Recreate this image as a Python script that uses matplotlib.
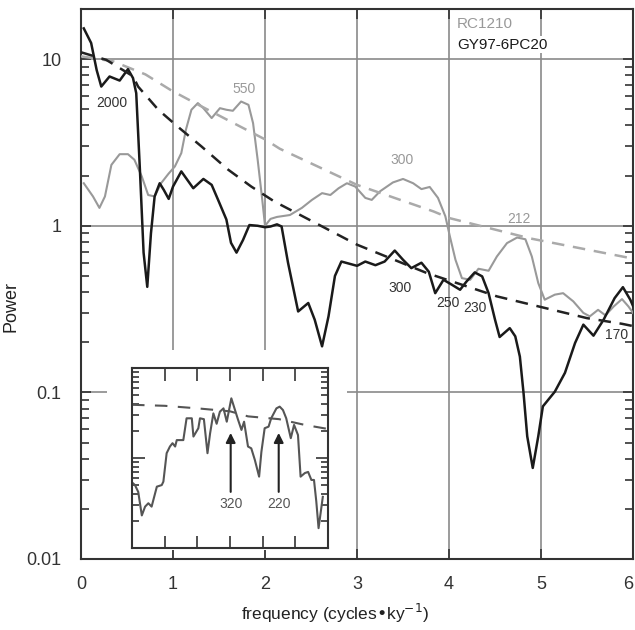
import matplotlib

matplotlib.use("Agg")
import matplotlib.pyplot as plt
from matplotlib.patches import Rectangle
from matplotlib.ticker import LogLocator, NullFormatter, FixedLocator

plt.rcParams["font.family"] = ["Liberation Sans", "DejaVu Sans"]

# GY97-6PC20 spectrum (black)
gy_freq = [0.03, 0.11, 0.17, 0.22, 0.31, 0.42, 0.51, 0.565, 0.60, 0.64,
           0.68, 0.72, 0.76, 0.80, 0.855, 0.90, 0.953, 1.0, 1.09, 1.22,
           1.33, 1.42, 1.49, 1.58, 1.63, 1.69, 1.76, 1.83, 1.92, 2.0,
           2.06, 2.13, 2.18, 2.25, 2.36, 2.47, 2.54, 2.62, 2.69, 2.76,
           2.83, 3.0, 3.09, 3.2, 3.3, 3.41, 3.5, 3.59, 3.70, 3.78,
           3.85, 3.94, 4.03, 4.12, 4.19, 4.28, 4.36, 4.43, 4.50, 4.55,
           4.66, 4.72, 4.77, 4.81, 4.85, 4.91, 4.97, 5.02, 5.15, 5.26,
           5.37, 5.46, 5.57, 5.68, 5.80, 5.89, 5.97, 6.0]
gy_power = [15.3, 12.5, 8.6, 6.85, 7.87, 7.44, 8.71, 7.7, 6.25, 2.17,
            0.69, 0.43, 0.90, 1.50, 1.80, 1.64, 1.45, 1.72, 2.12, 1.68,
            1.91, 1.76, 1.43, 1.09, 0.79, 0.69, 0.82, 1.01, 1.0, 0.98,
            0.99, 1.02, 0.99, 0.60, 0.306, 0.344, 0.273, 0.189, 0.286, 0.50,
            0.61, 0.575, 0.61, 0.58, 0.61, 0.71, 0.625, 0.557, 0.60, 0.53,
            0.394, 0.474, 0.443, 0.413, 0.463, 0.525, 0.497, 0.394, 0.273, 0.215,
            0.243, 0.217, 0.164, 0.099, 0.0545, 0.0352, 0.0545, 0.0824, 0.101, 0.131,
            0.198, 0.255, 0.219, 0.273, 0.368, 0.428, 0.36, 0.33]

# RC1210 spectrum (gray)
rc_freq = [0.03, 0.13, 0.20, 0.26, 0.33, 0.42, 0.51, 0.58, 0.66, 0.73,
           0.80, 0.87, 0.95, 1.02, 1.09, 1.14, 1.20, 1.27, 1.33, 1.42,
           1.51, 1.58, 1.65, 1.74, 1.82, 1.87, 1.92, 1.97, 2.0, 2.06,
           2.13, 2.27, 2.40, 2.51, 2.62, 2.71, 2.80, 2.89, 2.98, 3.09,
           3.16, 3.25, 3.39, 3.50, 3.61, 3.70, 3.79, 3.88, 3.96, 4.01,
           4.07, 4.14, 4.23, 4.32, 4.43, 4.52, 4.63, 4.74, 4.83, 4.90,
           4.97, 5.04, 5.15, 5.24, 5.35, 5.46, 5.53, 5.62, 5.70, 5.79,
           5.88, 5.95, 6.0]
rc_power = [1.80, 1.50, 1.28, 1.50, 2.32, 2.69, 2.69, 2.49, 1.98, 1.53,
            1.50, 1.80, 2.05, 2.27, 2.73, 3.77, 4.97, 5.45, 5.08, 4.43,
            5.08, 4.97, 4.9, 5.57, 5.32, 4.13, 2.49, 1.43, 1.0, 1.10,
            1.13, 1.16, 1.28, 1.43, 1.57, 1.53, 1.68, 1.80, 1.72, 1.47,
            1.43, 1.61, 1.82, 1.91, 1.80, 1.66, 1.71, 1.47, 1.14, 0.86,
            0.625, 0.485, 0.474, 0.552, 0.537, 0.654, 0.787, 0.85, 0.83, 0.654,
            0.453, 0.36, 0.386, 0.394, 0.352, 0.30, 0.286, 0.313, 0.29, 0.328,
            0.363, 0.328, 0.30]

# red-noise backgrounds (dashed)
gy_red_freq = [0.0, 0.275, 0.565, 0.62, 0.84, 1.05, 1.31, 1.6, 1.85, 2.1,
               3.0, 3.76, 4.52, 5.5, 5.88, 6.0]
gy_red_power = [11.0, 9.9, 7.9, 6.85, 4.97, 3.94, 2.99, 2.17, 1.72, 1.40,
                0.77, 0.52, 0.377, 0.279, 0.258, 0.25]
rc_red_freq = [0.0, 0.35, 0.7, 0.98, 1.24, 1.67, 2.0, 2.16, 3.0, 3.83,
               4.01, 4.88, 5.97, 6.0]
rc_red_power = [10.4, 9.7, 8.1, 6.5, 5.45, 4.1, 3.3, 2.9, 1.76, 1.22,
                1.11, 0.84, 0.64, 0.635]

# inset spectrum
in_freq = [0.04, 0.09, 0.19, 0.30, 0.40, 0.50, 0.60, 0.76, 0.91, 0.96,
           1.06, 1.16, 1.24, 1.32, 1.37, 1.57, 1.67, 1.83, 1.88, 2.03,
           2.08, 2.20, 2.31, 2.39, 2.49, 2.59, 2.69, 2.80, 2.90, 3.04,
           3.24, 3.35, 3.43, 3.55, 3.65, 3.76, 3.89, 3.96, 4.06, 4.18,
           4.26, 4.42, 4.52, 4.62, 4.72, 4.86, 4.96, 5.08, 5.16, 5.29,
           5.39, 5.49, 5.57, 5.64, 5.71, 5.84]
in_power = [0.052, 0.050, 0.042, 0.023, 0.0288, 0.0314, 0.0288, 0.048, 0.050, 0.0546,
            0.113, 0.134, 0.146, 0.134, 0.158, 0.158, 0.276, 0.276, 0.173, 0.214,
            0.276, 0.27, 0.113, 0.188, 0.313, 0.24, 0.327, 0.356, 0.253, 0.46,
            0.27, 0.205, 0.253, 0.134, 0.128, 0.095, 0.062, 0.117, 0.214, 0.223,
            0.276, 0.356, 0.372, 0.341, 0.276, 0.166, 0.233, 0.18, 0.062, 0.068,
            0.07, 0.057, 0.057, 0.033, 0.0166, 0.037]
in_red_freq = [0.0, 1.0, 2.0, 3.0, 3.55, 4.5, 5.29, 6.0]
in_red_power = [0.39, 0.38, 0.356, 0.33, 0.29, 0.27, 0.233, 0.21]

# labelled periods (years)
peak_labels = [("2000", 0.33, 5.47, "#333333"), ("550", 1.77, 6.6, "#999999"),
               ("300", 3.49, 2.49, "#999999"), ("212", 4.76, 1.10, "#999999"),
               ("300", 3.47, 0.423, "#333333"), ("250", 3.99, 0.344, "#333333"),
               ("230", 4.28, 0.32, "#333333"), ("170", 5.82, 0.222, "#333333")]
inset_arrows = [("320", 3.02), ("220", 4.49)]

GRID = "#8a8a8a"
SPINE = "#333333"

fig = plt.figure(figsize=(6.35, 6.3), dpi=100)
ax = fig.add_axes([0.1276, 0.1127, 0.8693, 0.873])

ax.plot(rc_freq, rc_power, color="#999999", lw=1.5, zorder=3)
ax.plot(gy_freq, gy_power, color="#1a1a1a", lw=1.8, zorder=4)
ax.plot(rc_red_freq, rc_red_power, color="#aaaaaa", lw=1.8, dashes=(5, 3.5), zorder=3)
ax.plot(gy_red_freq, gy_red_power, color="#222222", lw=1.8, dashes=(5, 3.5), zorder=4)

ax.set_yscale("log")
ax.set_xlim(0, 6)
ax.set_ylim(0.01, 20)
ax.set_xticks(range(7))
ax.set_yticks([0.01, 0.1, 1, 10])
ax.set_yticklabels(["0.01", "0.1", "1", "10"])
ax.yaxis.set_minor_locator(LogLocator(base=10, subs=range(2, 10)))
ax.yaxis.set_minor_formatter(NullFormatter())
ax.tick_params(which="both", direction="in", top=True, right=True,
               color=SPINE, width=1.2, labelsize=13, colors="#333333")
ax.tick_params(which="major", length=7)
ax.tick_params(which="minor", length=6)
ax.tick_params(axis="x", pad=12)
ax.tick_params(axis="y", pad=14)
# last x label sits at the figure edge: keep it inside
ax.get_xticklabels()[-1].set_horizontalalignment("right")
for s in ax.spines.values():
    s.set_color(SPINE)
    s.set_linewidth(1.5)

ax.grid(True, which="major", color=GRID, lw=1.2)
ax.set_axisbelow(True)

# white area around the inset hides the grid
blend = ax.get_xaxis_transform()
ax.add_patch(Rectangle((0.283, 0.016), 2.607, 0.364, transform=blend,
                       facecolor="white", edgecolor="none", zorder=1.8))

for txt, fx, py, col in peak_labels:
    ax.text(fx, py, txt, color=col, fontsize=10, ha="center", va="center", zorder=5)

ax.text(0.681, 0.973, "RC1210", transform=ax.transAxes, color="#999999",
        fontsize=11, va="center", ha="left", zorder=5,
        bbox=dict(facecolor="white", edgecolor="none", pad=1))
ax.text(0.681, 0.935, "GY97-6PC20", transform=ax.transAxes, color="#1a1a1a",
        fontsize=11, va="center", ha="left", zorder=5,
        bbox=dict(facecolor="white", edgecolor="none", pad=1))

ax.set_xlabel("frequency (cycles\u2022ky$^{-1}$)", fontsize=12.5, color="#222222", labelpad=7)
ax.xaxis.label.set_x(0.46)
ax.set_ylabel("Power", fontsize=13, color="#222222")
ax.yaxis.set_label_coords(-0.112, 0.46)

# inset
ins = fig.add_axes([0.2079, 0.1302, 0.3087, 0.2857])
ins.plot(in_freq, in_power, color="#555555", lw=1.5)
ins.plot(in_red_freq, in_red_power, color="#555555", lw=1.5, dashes=(6, 5))
for txt, fx in inset_arrows:
    ins.annotate("", xy=(fx, 0.19), xytext=(fx, 0.042),
                 arrowprops=dict(arrowstyle="-|>", color="#222222", lw=1.5,
                                 mutation_scale=14, shrinkA=0, shrinkB=0))
    ins.text(fx, 0.031, txt, color="#555555", fontsize=10, ha="center", va="center")
ins.set_yscale("log")
ins.set_xlim(0, 6)
ins.set_ylim(0.01, 1)
ins.xaxis.set_major_locator(FixedLocator([1, 2, 3, 4, 5]))
ins.yaxis.set_major_locator(FixedLocator([0.1]))
ins.yaxis.set_minor_locator(LogLocator(base=10, subs=range(2, 10)))
ins.set_xticklabels([])
ins.set_yticklabels([])
ins.yaxis.set_minor_formatter(NullFormatter())
ins.tick_params(which="both", direction="in", top=True, right=True,
                color=SPINE, width=1.2)
ins.tick_params(which="major", length=9)
ins.tick_params(which="minor", length=5)
for s in ins.spines.values():
    s.set_color(SPINE)
    s.set_linewidth(1.5)

fig.savefig("out.png", dpi=100)
